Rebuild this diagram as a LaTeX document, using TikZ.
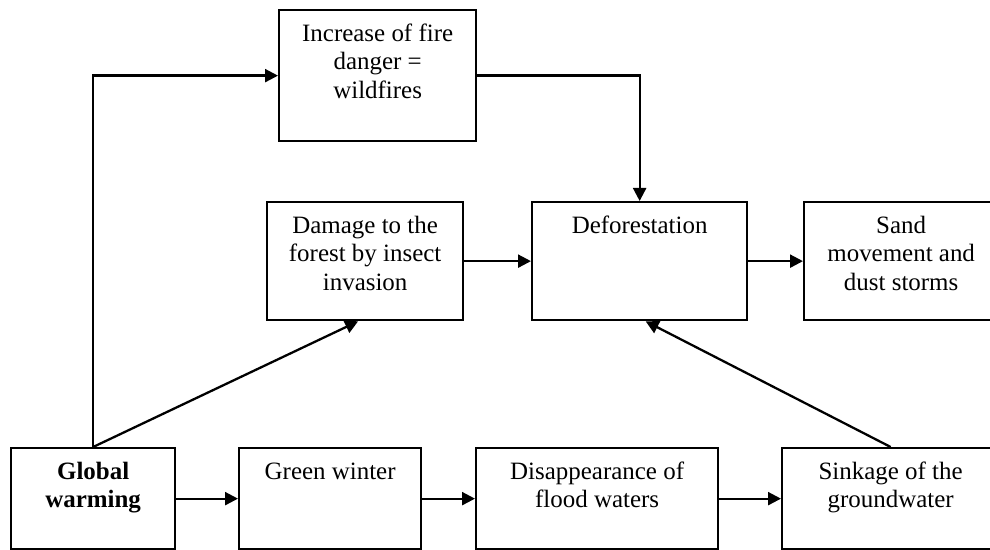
\documentclass[tikz,border=0pt]{standalone}
\usepackage{fontspec}
\setmainfont{Liberation Serif}
\usetikzlibrary{arrows.meta}
\newlength\px
\setlength\px{0.02cm}
\newcommand{\boxtext}[3]{\parbox[t][#2\px][t]{#1\px}{\centering\rule{0pt}{31\px}#3}}

\tikzset{
  stage/.style={draw, line width=1.3pt, inner sep=0pt, anchor=north west,
    font=\fontsize{14.2}{16.4}\selectfont},
  flow/.style={line width=1.3pt, -{Triangle[length=7.4pt,width=7.4pt]}}
}

\begin{document}
\begin{tikzpicture}[x=0.02cm,y=-0.02cm]
\useasboundingbox (0,0) rectangle (990,550);
\clip (0,0) rectangle (990,550);
% boxes
\node[stage] (fire) at (278,9) {\boxtext{197}{131}{Increase of fire\\danger =\\wildfires}};
\node[stage] (damage) at (266,201) {\boxtext{196}{118}{Damage to the\\forest by insect\\invasion}};
\node[stage] (defor) at (531,201) {\boxtext{215}{118}{Deforestation}};
\node[stage, overlay] (sand) at (803,201) {\boxtext{194}{118}{Sand\\movement and\\dust storms}};
\node[stage] (gw) at (10,447) {\boxtext{164}{101}{\textbf{Global}\\\textbf{warming}}};
\node[stage] (green) at (238,447) {\boxtext{182}{101}{Green winter}};
\node[stage] (disap) at (475,447) {\boxtext{242}{101}{Disappearance of\\flood waters}};
\node[stage, overlay] (sink) at (781,447) {\boxtext{217}{101}{Sinkage of the\\groundwater}};
% arrows
\draw[flow] (gw.north) |- (fire.west);
\draw[flow] (gw.north) -- ([xshift=-0.14cm]damage.south);
\draw[flow] (fire.east) -| (defor.north);
\draw[flow] (damage) -- (defor);
\draw[flow] (defor) -- (sand);
\draw[flow] (gw) -- (green);
\draw[flow] (green) -- (disap);
\draw[flow] (disap) -- (sink);
\draw[flow] (sink.north) -- ([xshift=0.12cm]defor.south);
\end{tikzpicture}
\end{document}
